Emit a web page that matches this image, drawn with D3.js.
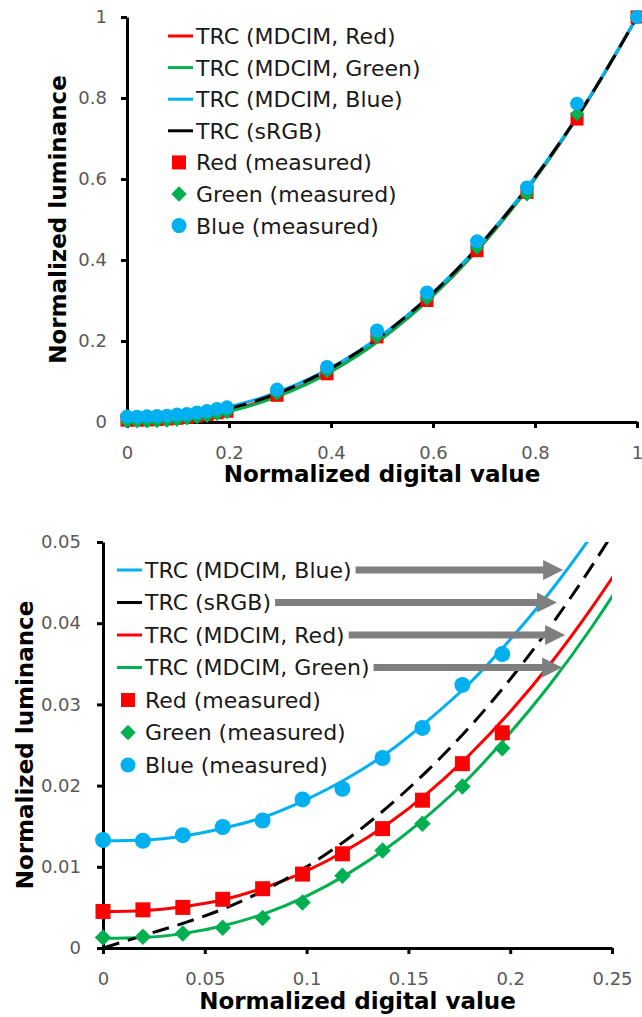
<!DOCTYPE html>
<html lang="en">
<head>
<meta charset="UTF-8">
<title>TRC – measured vs. model</title>
<script src="https://d3js.org/d3.v7.min.js"></script>
<style>
  body { margin: 0; background: #fff; }
  svg text { font-family: "DejaVu Sans", sans-serif; }
  .tick-label { font-size: 18px; fill: #595959; }
  .axis-title { font-size: 23px; font-weight: bold; fill: #000; }
  .legend-text { font-size: 22px; fill: #1a1a1a; }
</style>
</head>
<body>
<svg width="642" height="1017"></svg>
<script>
// measured patches: digital values 0,5,...,50,75,...,225,255 out of 255
const digital = [0, 0.0196, 0.0392, 0.0588, 0.0784, 0.098, 0.1176, 0.1373, 0.1569, 0.1765, 0.1961,
                 0.2941, 0.3922, 0.4902, 0.5882, 0.6863, 0.7843, 0.8824, 1];
const redMeasured   = [0.0045, 0.0047, 0.0050, 0.0060, 0.0073, 0.0091, 0.0116, 0.0147, 0.0182, 0.0227, 0.0265,
                       0.066, 0.119, 0.21, 0.30, 0.423, 0.567, 0.748, 1.0];
const greenMeasured = [0.0013, 0.0014, 0.0018, 0.0025, 0.0037, 0.0056, 0.0089, 0.0120, 0.0153, 0.0199, 0.0246,
                       0.070, 0.125, 0.21, 0.305, 0.43, 0.562, 0.76, 1.0];
const blueMeasured  = [0.0133, 0.0132, 0.0139, 0.0149, 0.0157, 0.0183, 0.0196, 0.0234, 0.0271, 0.0324, 0.0362,
                       0.080, 0.136, 0.226, 0.320, 0.446, 0.579, 0.786, 1.0];

// TRC curves, sampled off the plot
const curveX   = [0, 0.02, 0.04, 0.06, 0.08, 0.1, 0.12, 0.14, 0.16, 0.18, 0.2, 0.22, 0.24, 0.26,
                  0.3, 0.4, 0.5, 0.6, 0.7, 0.8, 0.9, 1];
const trcRed   = [0.0045, 0.0046, 0.0051, 0.0060, 0.0075, 0.0095, 0.0121, 0.0153, 0.0192, 0.0238, 0.0291,
                  0.0351, 0.0419, 0.0494, 0.0669, 0.1255, 0.2067, 0.3120, 0.4428, 0.6004, 0.7858, 1];
const trcGreen = [0.0012, 0.0013, 0.0018, 0.0028, 0.0043, 0.0064, 0.0091, 0.0124, 0.0164, 0.0210, 0.0265,
                  0.0326, 0.0395, 0.0472, 0.0650, 0.1243, 0.2062, 0.3120, 0.4433, 0.6011, 0.7864, 1];
const trcBlue  = [0.0132, 0.0133, 0.0138, 0.0148, 0.0162, 0.0183, 0.0209, 0.0241, 0.0281, 0.0326, 0.0380,
                  0.0440, 0.0508, 0.0583, 0.0759, 0.1342, 0.2150, 0.3196, 0.4492, 0.6052, 0.7884, 1];
const trcSRGB  = [0, 0.00155, 0.0031, 0.0049, 0.0072, 0.0100, 0.0134, 0.0174, 0.0220, 0.0272, 0.0331,
                  0.0397, 0.0470, 0.0550, 0.0732, 0.1329, 0.2140, 0.3185, 0.4480, 0.6038, 0.7874, 1];

// axis ticks
const topTicksX    = [0, 0.2, 0.4, 0.6, 0.8, 1];
const topTicksY    = [0, 0.2, 0.4, 0.6, 0.8, 1];
const bottomTicksX = [0, 0.05, 0.1, 0.15, 0.2, 0.25];
const bottomTicksY = [0, 0.01, 0.02, 0.03, 0.04, 0.05];

// legend order of each panel + where the arrows of the zoomed panel point (x in data units)
const topLegend    = ["trcRed", "trcGreen", "trcBlue", "trcSRGB", "measRed", "measGreen", "measBlue"];
const bottomLegend = ["trcBlue", "trcSRGB", "trcRed", "trcGreen", "measRed", "measGreen", "measBlue"];
const bottomArrowTips = [0.226, 0.223, 0.227, 0.2255];

const xTitle = "Normalized digital value";
const yTitle = "Normalized luminance";

const RED = "#ff0000", GREEN = "#00b050", BLUE = "#00b0f0";

const items = {
  trcRed:    { label: "TRC (MDCIM, Red)",   kind: "line", color: RED,   ys: trcRed },
  trcGreen:  { label: "TRC (MDCIM, Green)", kind: "line", color: GREEN, ys: trcGreen },
  trcBlue:   { label: "TRC (MDCIM, Blue)",  kind: "line", color: BLUE,  ys: trcBlue },
  trcSRGB:   { label: "TRC (sRGB)",         kind: "line", color: "#000", ys: trcSRGB, dash: "17,9" },
  measRed:   { label: "Red (measured)",     kind: "square",  color: RED,   ys: redMeasured },
  measGreen: { label: "Green (measured)",   kind: "diamond", color: GREEN, ys: greenMeasured },
  measBlue:  { label: "Blue (measured)",    kind: "circle",  color: BLUE,  ys: blueMeasured }
};

const svg = d3.select("svg");
svg.append("rect").attr("width", 642).attr("height", 1017).attr("fill", "#fff");

// s = half size of the marker
function marker(g, kind, color, cx, cy, s) {
  if (kind === "square") {
    g.append("rect").attr("x", cx - s).attr("y", cy - s)
      .attr("width", 2 * s).attr("height", 2 * s).attr("fill", color);
  } else if (kind === "diamond") {
    const h = s * 1.1;
    g.append("path").attr("d", `M${cx},${cy - h}L${cx + h},${cy}L${cx},${cy + h}L${cx - h},${cy}Z`)
      .attr("fill", color);
  } else {
    g.append("circle").attr("cx", cx).attr("cy", cy).attr("r", s + 0.5).attr("fill", color);
  }
}

function panel(p) {
  const x = d3.scaleLinear().domain([p.xTicks[0], p.xTicks[p.xTicks.length - 1]]).range(p.xRange);
  const y = d3.scaleLinear().domain([p.yTicks[0], p.yTicks[p.yTicks.length - 1]]).range(p.yRange);
  const g = svg.append("g");

  g.append("clipPath").attr("id", p.id).append("rect")
    .attr("x", p.xRange[0]).attr("y", p.yRange[1])
    .attr("width", p.xRange[1] - p.xRange[0]).attr("height", p.yRange[0] - p.yRange[1]);

  // axes
  const xAxis = g.append("g")
    .attr("transform", `translate(0,${p.yRange[0]})`)
    .call(d3.axisBottom(x).tickValues(p.xTicks).tickFormat(d => String(d))
      .tickSize(6).tickSizeOuter(0).tickPadding(18));
  const yAxis = g.append("g")
    .attr("transform", `translate(${p.xRange[0]},0)`)
    .call(d3.axisLeft(y).tickValues(p.yTicks).tickFormat(d => String(d))
      .tickSize(6).tickSizeOuter(0).tickPadding(p.yPad));
  [xAxis, yAxis].forEach(a => {
    a.select(".domain").attr("stroke", "#000").attr("stroke-width", 3);
    a.selectAll(".tick line").attr("stroke", "#000").attr("stroke-width", 3);
    a.selectAll(".tick text").attr("class", "tick-label");
  });

  g.append("text").attr("class", "axis-title")
    .attr("x", (p.xRange[0] + p.xRange[1]) / 2).attr("y", p.xTitleY)
    .attr("text-anchor", "middle").text(xTitle);
  g.append("text").attr("class", "axis-title")
    .attr("transform", `translate(${p.yTitleX},${(p.yRange[0] + p.yRange[1]) / 2}) rotate(-90)`)
    .attr("text-anchor", "middle").text(yTitle);

  // curves
  const line = d3.line().x(d => x(d[0])).y(d => y(d[1])).curve(d3.curveMonotoneX);
  const curves = g.append("g").attr("clip-path", `url(#${p.id})`);
  ["trcRed", "trcGreen", "trcBlue", "trcSRGB"].forEach(k => {
    const it = items[k];
    curves.append("path")
      .datum(curveX.map((v, i) => [v, it.ys[i]]))
      .attr("d", line)
      .attr("fill", "none")
      .attr("stroke", it.color)
      .attr("stroke-width", 3)
      .attr("stroke-dasharray", it.dash || null);
  });

  // measured points
  const xMax = x.domain()[1], yMax = y.domain()[1];
  ["measRed", "measGreen", "measBlue"].forEach(k => {
    const it = items[k];
    const mg = g.append("g");
    digital.forEach((v, i) => {
      if (v <= xMax + 1e-9 && it.ys[i] <= yMax + 1e-9)
        marker(mg, it.kind, it.color, x(v), y(it.ys[i]), p.markerSize);
    });
  });

  // legend
  const lg = g.append("g");
  p.legend.forEach((k, i) => {
    const it = items[k];
    const cy = p.legendY + i * p.legendStep;
    if (it.kind === "line") {
      lg.append("line").attr("x1", p.legendX).attr("x2", p.legendX + 25)
        .attr("y1", cy).attr("y2", cy)
        .attr("stroke", it.color).attr("stroke-width", 3);
    } else {
      marker(lg, it.kind, it.color, p.legendX + 11, cy, 7);
    }
    const t = lg.append("text").attr("class", "legend-text")
      .attr("x", p.legendX + 28).attr("y", cy).attr("dy", "0.36em").text(it.label);
    if (p.arrows && i < p.arrows.length) {
      const x0 = p.legendX + 28 + t.node().getComputedTextLength() + 4;
      const tip = x(p.arrows[i]);
      const hb = tip - 20;
      lg.append("path")
        .attr("d", `M${x0},${cy - 3.5}L${hb},${cy - 3.5}L${hb},${cy - 10}L${tip},${cy}` +
                   `L${hb},${cy + 10}L${hb},${cy + 3.5}L${x0},${cy + 3.5}Z`)
        .attr("fill", "#7f7f7f");
    }
  });
}

panel({
  id: "clip-top", xTicks: topTicksX, yTicks: topTicksY,
  xRange: [127, 637], yRange: [422, 17], yPad: 14,
  xTitleY: 482, yTitleX: 66, markerSize: 6.5,
  legend: topLegend, legendX: 168, legendY: 36, legendStep: 31.6
});

panel({
  id: "clip-bottom", xTicks: bottomTicksX, yTicks: bottomTicksY,
  xRange: [103, 612], yRange: [948, 542], yPad: 16,
  xTitleY: 1009, yTitleX: 33, markerSize: 7.5,
  legend: bottomLegend, legendX: 117, legendY: 570, legendStep: 32.5,
  arrows: bottomArrowTips
});
</script>
</body>
</html>
